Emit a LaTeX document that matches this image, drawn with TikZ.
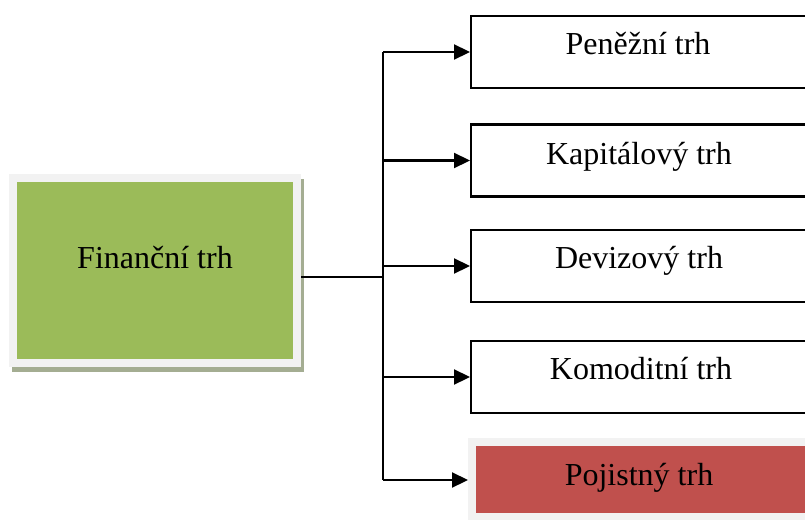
\documentclass[tikz,border=0pt]{standalone}
\usepackage{fontspec}
\setmainfont{Liberation Serif}
\usetikzlibrary{arrows.meta}
\definecolor{olivegreen}{HTML}{9BBB59}
\definecolor{brickred}{HTML}{C0504D}
\definecolor{framegray}{HTML}{F2F2F2}
\definecolor{shadowgray}{HTML}{A4AD92}
\tikzset{
  lbl/.style={anchor=base, font=\fontsize{32}{38}\selectfont, inner sep=0pt},
  whitebox/.style={draw=black, line width=2.3pt, fill=white, rectangle, anchor=west,
    minimum width=360pt, minimum height=72pt, inner sep=0pt},
  redbox/.style={draw=framegray, line width=8pt, fill=brickred, rectangle, anchor=west,
    minimum width=360pt, minimum height=75pt, inner sep=0pt},
  greenbox/.style={draw=framegray, line width=8pt, fill=olivegreen, rectangle,
    minimum width=284pt, minimum height=185pt, inner sep=0pt},
  conn/.style={draw=black, line width=2.2pt},
  arr/.style={conn, -{Triangle[length=16pt,width=15pt]}},
}
\begin{document}
\begin{tikzpicture}[x=1pt,y=-1pt]
\clip (0,0) rectangle (805,519);
\fill[white] (0,0) rectangle (805,519);
% shadow of the main box
\fill[shadowgray] (12,179) rectangle (304,372);
\node[greenbox] (fin) at (155,270.5) {};
\node[lbl] (fint) at (155,268) {Finanční trh};
% right boxes
\node[whitebox] (p1) at (470,52) {};
\node[whitebox] (p2) at (470,160.5) {};
\node[whitebox] (p3) at (470,266) {};
\node[whitebox] (p4) at (470,377) {};
\node[redbox] (p5) at (468,479.5) {};
\node[lbl] (t1) at (638,55) {Peněžní trh};
\node[lbl] (t2) at (639,164) {Kapitálový trh};
\node[lbl] (t3) at (639,268) {Devizový trh};
\node[lbl] (t4) at (641,379) {Komoditní trh};
\node[lbl] (t5) at (639,485) {Pojistný trh};
% connectors
\coordinate (j) at (383,277);
\coordinate (top) at (383,52);
\coordinate (bot) at (383,480);
\draw[conn] (fin.east |- j) -- (j);
\draw[conn] (top) -- (bot);
\draw[arr] (top) -- (p1.west);
\draw[arr] (j |- p2.west) -- (p2.west);
\draw[arr] (j |- p3.west) -- (p3.west);
\draw[arr] (j |- p4.west) -- (p4.west);
\draw[arr] (bot) -- (p5.west |- bot);
\end{tikzpicture}
\end{document}
